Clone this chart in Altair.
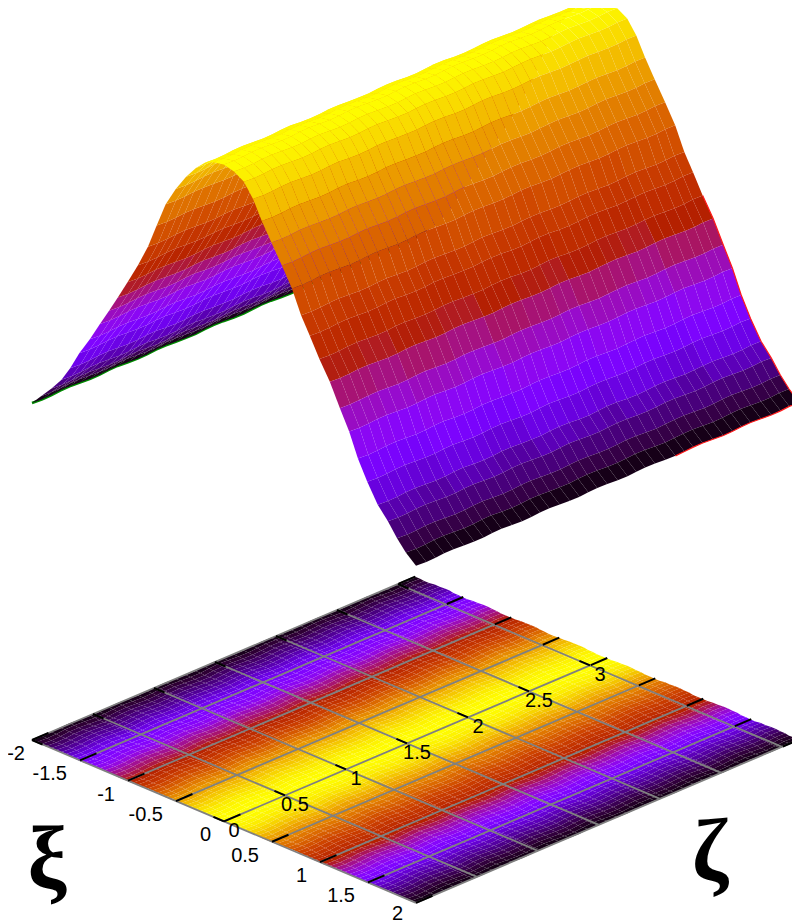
import math
import altair as alt
import pandas as pd

alt.data_transformers.disable_max_rows()

# height of the ridge (0..1) at xi = -2.0, -1.9, ... 2.0
ridge = [.00, .035, .07, .11, .16, .22, .275, .335, .39, .445, .505, .57, .64, .72, .80, .86, .91, .95, .98, .995,
         1.0, .99, .97, .93, .875, .82, .76, .70, .63, .58, .52, .46, .39, .33, .26, .20, .14, .10, .06, .03, .00]
# colour value of the floor map at xi = -2.0, -1.95, ... 2.0
floor_band = [.01, .025, .04, .057, .075, .092, .11, .135, .16, .19,
              .22, .24, .26, .285, .31, .35, .39, .415, .44, .47,
              .50, .535, .57, .605, .64, .68, .72, .76, .80, .83,
              .86, .885, .91, .93, .95, .965, .98, .988, .995, .998,
              1.0,
              .996, .99, .98, .97, .95, .93, .903, .875, .848, .82,
              .79, .76, .73, .70, .665, .63, .605, .58, .55, .52,
              .49, .46, .425, .39, .36, .33, .295, .26, .23, .20,
              .17, .14, .12, .10, .08, .06, .045, .03, .02, .01]
# ragged grid: xi offset per zeta column, zeta offset per xi row
xi_wobble = [.00, .008, .004, -.006, -.008, .00, .008, .006, -.004, -.008, .002, .008, .004, -.006, -.008, .00, .006,
             .008, -.002, -.008, -.004, .006, .008, .00, -.008, -.006, .004, .008, .002, -.006, -.008, .00, .008, .004,
             -.004, -.008, .00, .008, .006, -.004, .00]
zeta_wobble = [.00, -.005, .003, .006, -.002, -.006, .002, .006, .002, -.005, -.004, .003, .006, -.001, -.006,
               -.002, .004, .006, .000, -.006, -.003, .003, .006, .002, -.005, -.005, .002, .006, .002, -.005,
               -.005, .002, .006, .003, -.004, -.006, .001, .006, .002, -.005, .00]
# slow colour drift per zeta column
colour_drift = [0, 0, 0, 0, -.01, -.01, -.01, .005, .005, .005, 0, 0, -.01, -.01, -.01, -.01, .008, .008, .008, .008,
                0, 0, 0, -.008, -.008, .006, .006, .006, .006, 0, 0, -.01, -.01, -.01, .01, .01, .01, .012, .012, .012]

xi_ticks = [-2, -1.5, -1, -.5, 0, .5, 1, 1.5, 2]
xi_labels = ["-2", "-1.5", "-1", "-0.5", "0", "0.5", "1", "1.5", "2"]
xi_label_nudge_x = [6, 0, 0, 0, 0, 0, 0, 0, 0]
xi_label_nudge_y = [0, 0, 0, 0, 0, 0, 0, 0, -3]
zeta_ticks = [0, .5, 1, 1.5, 2, 2.5, 3]
zeta_labels = ["0", "0.5", "1", "1.5", "2", "2.5", "3"]
ZETA_MAX = math.pi
N = 40


# oblique view of the box
def view(xi, zeta, h=None):
    x = 224 + 96 * xi + 122 * zeta
    y = 821.4 + 40.7 * xi - 52 * zeta
    if h is not None:
        y -= 337 + 320 * h
    return round(x, 2), round(y, 2)


def node(i, j):
    return -2 + i * .1 + xi_wobble[j], j * ZETA_MAX / N + zeta_wobble[i]


def floor_node(k, j):
    return -2 + k * .05 + xi_wobble[j], j * ZETA_MAX / N + zeta_wobble[k // 2]


base_rows, surf_rows = [], []
cell = 0
for k in range(2 * N):
    for j in range(N - 1, -1, -1):
        c = round(min(1, max(0, (floor_band[k] + floor_band[k + 1]) / 2)), 4)
        for v, (a, b) in enumerate([(k, j), (k + 1, j), (k + 1, j + 1), (k, j + 1)]):
            bx, by = view(*floor_node(a, b))
            base_rows.append(dict(cell=cell, v=v, x=bx, y=by, c=c))
        cell += 1
for i in range(N):
    for j in range(N - 1, -1, -1):
        c = (ridge[i] + ridge[i + 1]) / 2
        if .1 < c < .7:
            c += colour_drift[j]
        c = round(min(1, max(.012, c)), 4)
        for v, (a, b) in enumerate([(i, j), (i + 1, j), (i + 1, j + 1), (i, j + 1)]):
            sx, sy = view(*node(a, b), ridge[a])
            surf_rows.append(dict(cell=cell, v=v, x=sx, y=sy, c=c))
        cell += 1
base_df = pd.DataFrame(base_rows)
surf_df = pd.DataFrame(surf_rows)

# colour bar of the picture: black - violet - red - orange - yellow
stops = [k / 32 for k in range(33)]


def hexcol(t):
    r = math.sqrt(t)
    g = t ** 3
    b = max(0, math.sin(2 * math.pi * t))
    return "#%02x%02x%02x" % (round(r * 255), round(g * 255), round(b * 255))


palette = [hexcol(t) for t in stops]
xs = alt.Scale(domain=[0, 792], range=[0, 792])
ys = alt.Scale(domain=[0, 921], range=[0, 921])
cs = alt.Scale(domain=stops, range=palette, interpolate="rgb")


def quads(df):
    return alt.Chart(df).mark_line(strokeWidth=0, interpolate="linear").encode(
        x=alt.X("x:Q", scale=xs, axis=None),
        y=alt.Y("y:Q", scale=ys, axis=None),
        fill=alt.Fill("c:Q", scale=cs, legend=None),
        detail="cell:N",
        order="v:Q",
    )


def segments(pairs, colour, width):
    rows = []
    for k, pts in enumerate(pairs):
        for v, (x, y) in enumerate(pts):
            rows.append(dict(k=k, v=v, x=x, y=y))
    return alt.Chart(pd.DataFrame(rows)).mark_line(color=colour, strokeWidth=width).encode(
        x=alt.X("x:Q", scale=xs, axis=None),
        y=alt.Y("y:Q", scale=ys, axis=None),
        detail="k:N",
        order="v:Q",
    )


grid = []
for xi in xi_ticks:
    end = ZETA_MAX if abs(xi) == 2 else 3
    grid.append([view(xi, 0), view(xi, end)])
for ze in zeta_ticks:
    grid.append([view(-2, ze), view(2, ze)])

ticks = []
for xi in xi_ticks:
    ticks.append([view(xi, 0), view(xi, .135)])
    ticks.append([view(xi, ZETA_MAX), view(xi, ZETA_MAX - .135)])
for ze in zeta_ticks:
    ticks.append([view(0, ze), view(-.11, ze)])
    ticks.append([view(-2, ze), view(-1.89, ze)])

green = [[view(*node(0, j), ridge[0]) for j in range(N + 1)]]
red = [[view(*node(i, N), ridge[i]) for i in range(30, N + 1)]
       + [view(*node(N, j), ridge[N]) for j in range(N, 26, -1)]]


def labels(ticks_, names, point, align, dx, dy, nudge_x=None, nudge_y=None):
    nudge_x = nudge_x or [0] * len(names)
    nudge_y = nudge_y or [0] * len(names)
    rows = []
    for t, n, mx, my in zip(ticks_, names, nudge_x, nudge_y):
        px, py = point(t)
        rows.append(dict(x=px + mx, y=py + my, t=n))
    return alt.Chart(pd.DataFrame(rows)).mark_text(
        font="Liberation Sans", fontSize=20, align=align, baseline="middle", dx=dx, dy=dy, color="black"
    ).encode(
        x=alt.X("x:Q", scale=xs, axis=None),
        y=alt.Y("y:Q", scale=ys, axis=None),
        text="t:N",
    )


axis_names = pd.DataFrame({"x": [47, 710], "y": [862, 854], "t": ["ξ", "ζ"]})
big = alt.Chart(axis_names).mark_text(
    font="Liberation Serif", fontSize=88, fontWeight="bold",
    align="center", baseline="middle", color="black"
).encode(
    x=alt.X("x:Q", scale=xs, axis=None),
    y=alt.Y("y:Q", scale=ys, axis=None),
    text="t:N",
)

chart = alt.layer(
    quads(base_df),
    segments(grid, "#808080", 1.8),
    segments(ticks, "black", 2),
    labels(xi_ticks, xi_labels, lambda t: view(t, 0), "right", -13, 14, xi_label_nudge_x, xi_label_nudge_y),
    labels(zeta_ticks, zeta_labels, lambda t: view(0, t), "center", 10, 10),
    big,
    segments(green, "#008c00", 2.6),
    quads(surf_df),
    segments(red, "#ff1a1a", 1.2),
).properties(
    width=792, height=921,
    padding={"left": -8, "top": -8, "right": 0, "bottom": 0},
    autosize=alt.AutoSizeParams(type="none", contains="content"),
).configure_view(stroke=None)

chart.save("out.html", embed_options={"renderer": "svg", "actions": False})
